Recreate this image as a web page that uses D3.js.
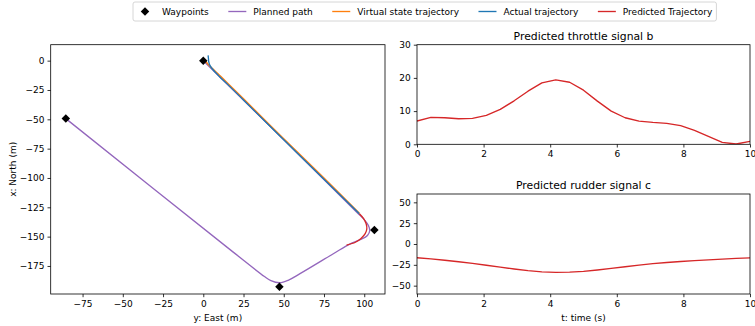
<!DOCTYPE html>
<html>
<head>
<meta charset="utf-8">
<script src="https://cdn.jsdelivr.net/npm/d3@7"></script>
<style>
  body { margin: 0; background: #fff; }
  text { font-family: "DejaVu Sans", sans-serif; fill: #000; }
</style>
</head>
<body>
<div id="chart"></div>
<script>
// path data: [east (m), north (m)]
const waypoints = [[0, 0], [106.3, -144.3], [47.3, -192.7], [-85.4, -49.4]]

const plannedPath = [
  [0, 0], [50, -67.5], [96, -130], [100, -135.5], [102.6, -140.5], [103.4, -145],
  [102, -149], [97.5, -152.6], [91, -156.3], [80.8, -164.6], [60.1, -181.6],
  [53, -187], [47.5, -189.3], [42, -187.5], [38, -184], [18.6, -163.2], [-85.4, -49.4]
]

const virtualPath = [
  [1.5, -0.5], [3, -3], [5.5, -6.5], [9, -11], [15, -19], [25, -32.5],
  [50, -66.5], [75, -100], [97, -130]
]

const actualPath = [
  [3, 4.5], [3.2, 2], [3.4, -1], [4.2, -4.2], [6.2, -8], [10, -13.5], [15, -20],
  [25, -33.5], [50, -67.5], [75, -101], [97, -130.5]
]

const predictedPath = [
  [97, -130.5], [99.5, -134.5], [101.2, -139], [101.6, -143.5], [100.6, -147.5],
  [98, -151.5], [94.5, -154.8], [89, -157.2]
]

// control signals
const times = [0, 0.417, 0.833, 1.25, 1.667, 2.083, 2.5, 2.917, 3.333, 3.75, 4.167, 4.583,
  5, 5.417, 5.833, 6.25, 6.667, 7.083, 7.5, 7.917, 8.333, 8.75, 9.167, 9.583, 10]
const throttle = [7.0, 8.1, 8.0, 7.7, 7.8, 8.7, 10.5, 13.1, 16.0, 18.5, 19.4, 18.7,
  16.3, 13.0, 10.0, 8.0, 7.0, 6.6, 6.3, 5.6, 4.2, 2.4, 0.6, 0.1, 0.9]
const rudder = [-16.5, -17.8, -19.5, -21.3, -23.3, -25.5, -27.8, -30.0, -32.0, -33.4, -34.0, -33.8,
  -32.8, -31.2, -29.3, -27.3, -25.4, -23.6, -22.2, -21.0, -19.9, -19.0, -18.1, -17.3, -16.6]

const eastTicks = [-75, -50, -25, 0, 25, 50, 75, 100]
const northTicks = [0, -25, -50, -75, -100, -125, -150, -175]
const timeTicks = [0, 2, 4, 6, 8, 10]
const throttleTicks = [0, 10, 20, 30]
const rudderTicks = [-50, -25, 0, 25, 50]

const legendItems = [
  { label: "Waypoints", color: "#000", type: "marker" },
  { label: "Planned path", color: "#9467bd", type: "line" },
  { label: "Virtual state trajectory", color: "#ff7f0e", type: "line" },
  { label: "Actual trajectory", color: "#1f77b4", type: "line" },
  { label: "Predicted Trajectory", color: "#d62728", type: "line" }
]

const width = 755
const height = 326
const lineW = 1.35
const fmt = d => d < 0 ? "\u2212" + Math.abs(d) : String(d)

const svg = d3.select("#chart").append("svg")
  .attr("width", width)
  .attr("height", height)

svg.append("rect").attr("width", width).attr("height", height).attr("fill", "#fff")

function styleAxis(g) {
  g.selectAll(".domain").remove()
  g.selectAll(".tick line").attr("stroke", "#000").attr("stroke-width", 0.8)
  g.selectAll(".tick text").attr("font-size", 9).attr("fill", "#000")
    .style("font-family", "DejaVu Sans, sans-serif")
}

function frame(x0, x1, y0, y1) {
  svg.append("rect")
    .attr("x", x0).attr("y", y0)
    .attr("width", x1 - x0).attr("height", y1 - y0)
    .attr("fill", "none").attr("stroke", "#000").attr("stroke-width", 0.8)
}

// ---- left: trajectory plot ----
const L = { x0: 50.7, x1: 385, y0: 44.7, y1: 294 }
const xE = d3.scaleLinear().domain([-94.8, 112.9]).range([L.x0, L.x1])
const yN = d3.scaleLinear().domain([-198.9, 13.6]).range([L.y1, L.y0])

const pathLine = d3.line()
  .x(d => xE(d[0]))
  .y(d => yN(d[1]))
  .curve(d3.curveCatmullRom.alpha(0.5))

svg.append("clipPath").attr("id", "clipL")
  .append("rect").attr("x", L.x0).attr("y", L.y0)
  .attr("width", L.x1 - L.x0).attr("height", L.y1 - L.y0)

const gL = svg.append("g").attr("clip-path", "url(#clipL)")

const paths = [
  [plannedPath, "#9467bd"],
  [virtualPath, "#ff7f0e"],
  [actualPath, "#1f77b4"],
  [predictedPath, "#d62728"]
]
paths.forEach(([data, color]) => {
  gL.append("path")
    .attr("d", pathLine(data))
    .attr("fill", "none")
    .attr("stroke", color)
    .attr("stroke-width", lineW)
    .attr("stroke-linejoin", "round")
})

const diamond = d3.symbol().type(d3.symbolSquare).size(36)
svg.append("g").selectAll("path")
  .data(waypoints)
  .enter()
  .append("path")
  .attr("d", diamond)
  .attr("transform", d => `translate(${xE(d[0])},${yN(d[1])}) rotate(45)`)
  .attr("fill", "#000")

svg.append("g")
  .attr("transform", `translate(0,${L.y1})`)
  .call(d3.axisBottom(xE).tickValues(eastTicks).tickFormat(fmt).tickSize(3.2).tickPadding(3))
  .call(styleAxis)

svg.append("g")
  .attr("transform", `translate(${L.x0},0)`)
  .call(d3.axisLeft(yN).tickValues(northTicks).tickFormat(fmt).tickSize(3.2).tickPadding(3))
  .call(styleAxis)

frame(L.x0, L.x1, L.y0, L.y1)

svg.append("text")
  .attr("x", (L.x0 + L.x1) / 2).attr("y", 320.5)
  .attr("text-anchor", "middle").attr("font-size", 9)
  .text("y: East (m)")

svg.append("text")
  .attr("transform", `translate(15.5,${(L.y0 + L.y1) / 2}) rotate(-90)`)
  .attr("text-anchor", "middle").attr("font-size", 9)
  .text("x: North (m)")

// ---- right: signal plots ----
function signalPlot(box, values, yDomain, yTicks, title) {
  const x = d3.scaleLinear().domain([0, 10]).range([box.x0, box.x1])
  const y = d3.scaleLinear().domain(yDomain).range([box.y1, box.y0])

  const clipId = "clip" + Math.round(box.y0)
  svg.append("clipPath").attr("id", clipId)
    .append("rect").attr("x", box.x0).attr("y", box.y0)
    .attr("width", box.x1 - box.x0).attr("height", box.y1 - box.y0)

  svg.append("path")
    .attr("clip-path", `url(#${clipId})`)
    .attr("d", d3.line().x((d, i) => x(times[i])).y(d => y(d))(values))
    .attr("fill", "none")
    .attr("stroke", "#d62728")
    .attr("stroke-width", lineW)
    .attr("stroke-linejoin", "round")

  svg.append("g")
    .attr("transform", `translate(0,${box.y1})`)
    .call(d3.axisBottom(x).tickValues(timeTicks).tickFormat(fmt).tickSize(3.2).tickPadding(3))
    .call(styleAxis)

  svg.append("g")
    .attr("transform", `translate(${box.x0},0)`)
    .call(d3.axisLeft(y).tickValues(yTicks).tickFormat(fmt).tickSize(3.2).tickPadding(3))
    .call(styleAxis)

  frame(box.x0, box.x1, box.y0, box.y1)

  svg.append("text")
    .attr("x", (box.x0 + box.x1) / 2).attr("y", box.y0 - 5)
    .attr("text-anchor", "middle").attr("font-size", 10.8)
    .text(title)
}

signalPlot({ x0: 417, x1: 750, y0: 44.7, y1: 144.3 }, throttle, [0, 30], throttleTicks, "Predicted throttle signal b")
signalPlot({ x0: 417, x1: 750, y0: 194, y1: 294 }, rudder, [-60, 60], rudderTicks, "Predicted rudder signal c")

svg.append("text")
  .attr("x", (417 + 750) / 2).attr("y", 320.5)
  .attr("text-anchor", "middle").attr("font-size", 9)
  .text("t: time (s)")

// ---- legend ----
const legend = svg.append("g")
const legBox = legend.append("rect")
  .attr("y", 2).attr("height", 19).attr("rx", 2)
  .attr("fill", "#fff").attr("stroke", "#ccc").attr("stroke-width", 0.8)

let cx = 137
const ly = 11.5
const gap = 19.5
legendItems.forEach(item => {
  if (item.type === "marker") {
    legend.append("path")
      .attr("d", diamond)
      .attr("transform", `translate(${cx + 8},${ly}) rotate(45)`)
      .attr("fill", item.color)
  } else {
    legend.append("line")
      .attr("x1", cx).attr("x2", cx + 18)
      .attr("y1", ly).attr("y2", ly)
      .attr("stroke", item.color).attr("stroke-width", lineW)
  }
  const t = legend.append("text")
    .attr("x", cx + 25).attr("y", ly + 3.2)
    .attr("font-size", 9)
    .text(item.label)
  cx += 25 + t.node().getComputedTextLength() + gap
})
legBox.attr("x", 133).attr("width", cx - gap + 4 - 133)
</script>
</body>
</html>
